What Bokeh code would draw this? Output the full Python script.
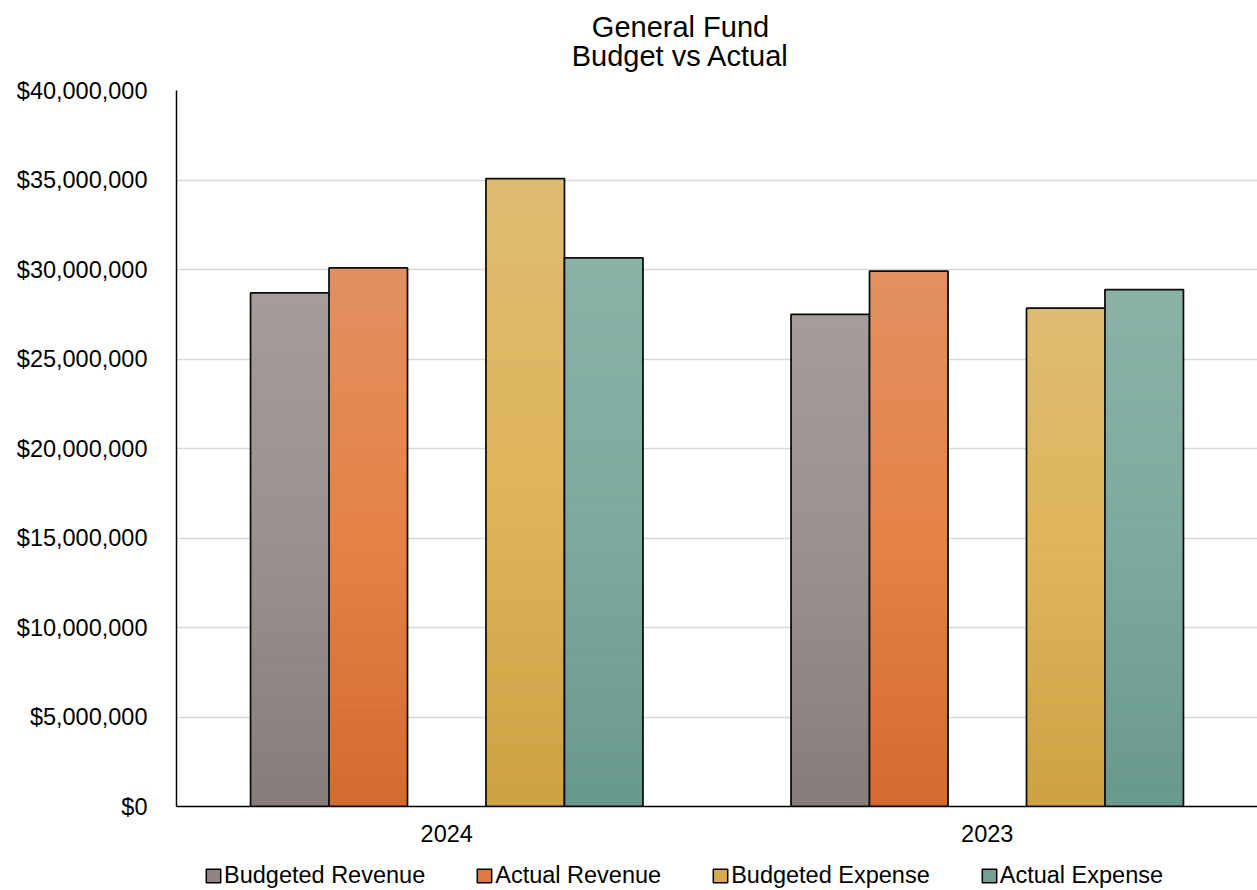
import numpy as np
from bokeh.plotting import figure
from bokeh.layouts import column
from bokeh.models import (Range1d, FixedTicker, NumeralTickFormatter, Legend,
                          LegendItem, Label, ColumnDataSource)
from bokeh.embed import file_html
from bokeh.resources import INLINE

# ---------------- data ----------------
categories = ["2024", "2023"]
series_names = ["Budgeted Revenue", "Actual Revenue", "Budgeted Expense", "Actual Expense"]
budgeted_revenue = [28_700_000, 27_490_000]
actual_revenue = [30_090_000, 29_910_000]
budgeted_expense = [35_080_000, 27_840_000]
actual_expense = [30_650_000, 28_880_000]
y_ticks = [0, 5_000_000, 10_000_000, 15_000_000, 20_000_000,
           25_000_000, 30_000_000, 35_000_000, 40_000_000]
title_lines = ["General Fund", "Budget vs Actual"]

series_values = [budgeted_revenue, actual_revenue, budgeted_expense, actual_expense]

# ---------------- style ----------------
FONT = "Liberation Sans"
TICK_FS = "23.5px"
W = 1257
TITLE_H, LEGEND_H = 76, 30
slot_offsets = [-2, -1, 1, 2]       # slot 0 of each group is empty
slot_width = 0.1452
# gradient stops: top, middle, bottom
gradients = [
    ["#A59D9B", "#9A908E", "#867C7A"],
    ["#E29062", "#E58246", "#D36B2F"],
    ["#DEBB72", "#DFB55A", "#CDA144"],
    ["#8AB2A7", "#7DAA9E", "#69988C"],
]
legend_colors = ["#8E8482", "#E17A3E", "#D6AA4E", "#74A195"]


def hex2rgb(h):
    h = h.lstrip("#")
    return np.array([int(h[i:i + 2], 16) for i in (0, 2, 4)], dtype=float)


def grad_color(stops, t):
    # t = 0 at top, 1 at bottom
    a, b, c = [hex2rgb(s) for s in stops]
    if t <= 0.5:
        rgb = a + (b - a) * (t / 0.5)
    else:
        rgb = b + (c - b) * ((t - 0.5) / 0.5)
    return "#%02x%02x%02x" % tuple(int(round(v)) for v in rgb)


def blank_fig(h):
    f = figure(width=W, height=h, x_range=Range1d(0, W), y_range=Range1d(0, h),
               output_backend="svg", toolbar_location=None,
               x_axis_location=None, y_axis_location=None, min_border=0)
    f.outline_line_color = None
    f.grid.visible = False
    f.background_fill_color = "white"
    f.border_fill_color = "white"
    return f


# ---------------- title ----------------
# (frames of the stacked figures share the main chart's left edge at x=176)
tf = blank_fig(TITLE_H)
for line, base in zip(title_lines, [50.0, 21.0]):
    tf.add_layout(Label(x=504, y=base, x_units="screen", y_units="screen",
                        text=line, text_font=FONT, text_font_size="29px",
                        text_align="center", text_baseline="alphabetic",
                        text_color="black"))

# ---------------- main chart ----------------
p = figure(frame_width=1081, frame_height=716,
           x_range=Range1d(0, len(categories)), y_range=Range1d(0, 40_000_000),
           output_backend="svg", toolbar_location=None,
           min_border_left=176, min_border_right=0,
           min_border_top=14, min_border_bottom=54)
p.outline_line_color = None
p.background_fill_color = "white"
p.border_fill_color = "white"

p.xgrid.visible = False
p.ygrid.ticker = FixedTicker(ticks=y_ticks)
p.ygrid.grid_line_color = "#D9D9D9"
p.ygrid.grid_line_width = 1.5

p.yaxis.ticker = FixedTicker(ticks=y_ticks)
p.yaxis.formatter = NumeralTickFormatter(format="$0,0")
p.yaxis.major_tick_line_color = None
p.yaxis.minor_tick_line_color = None
p.yaxis.axis_line_color = "black"
p.yaxis.axis_line_width = 1.5
p.yaxis.major_label_text_font = FONT
p.yaxis.major_label_text_font_size = TICK_FS
p.yaxis.major_label_text_color = "black"
p.yaxis.major_label_standoff = 23

centers = [i + 0.5 for i in range(len(categories))]
p.xaxis.ticker = FixedTicker(ticks=centers)
p.xaxis.major_label_overrides = {c: cat for c, cat in zip(centers, categories)}
p.xaxis.major_tick_line_color = None
p.xaxis.minor_tick_line_color = None
p.xaxis.axis_line_color = "black"
p.xaxis.axis_line_width = 1.5
p.xaxis.major_label_text_font = FONT
p.xaxis.major_label_text_font_size = TICK_FS
p.xaxis.major_label_text_color = "black"
p.xaxis.major_label_standoff = 12

N = 100
for s, vals in enumerate(series_values):
    lefts, rights, bottoms, tops, colors = [], [], [], [], []
    o_left, o_right, o_top = [], [], []
    for ci, v in enumerate(vals):
        xc = centers[ci] + slot_offsets[s] * slot_width
        l, r = xc - slot_width / 2, xc + slot_width / 2
        o_left.append(l); o_right.append(r); o_top.append(v)
        for k in range(N):
            lefts.append(l); rights.append(r)
            bottoms.append(v * k / N); tops.append(v * (k + 1) / N)
            colors.append(grad_color(gradients[s], 1 - (k + 0.5) / N))
    src = ColumnDataSource(dict(left=lefts, right=rights, bottom=bottoms, top=tops, color=colors))
    p.quad(left="left", right="right", bottom="bottom", top="top", source=src,
           fill_color="color", line_color="color", line_width=1.0)
    p.quad(left=o_left, right=o_right, bottom=[0] * len(o_top), top=o_top,
           fill_alpha=0, line_color="#0D0D0D", line_width=1.75)

# ---------------- legend ----------------
lf = blank_fig(LEGEND_H)
items = []
for s, name in enumerate(series_names):
    # legend-only swatch renderer, kept outside the visible range
    dummy = lf.quad(left=[-100], right=[-90], bottom=[0], top=[10],
                    fill_color=legend_colors[s], line_color="black", line_width=1.5)
    items.append(LegendItem(label=name, renderers=[dummy]))
legend = Legend(items=items, orientation="horizontal", location=(28, 1),
                glyph_width=18, glyph_height=17, label_standoff=2, spacing=50,
                padding=0, margin=0, border_line_color=None, background_fill_alpha=0,
                label_text_font=FONT, label_text_font_size="23.5px",
                label_text_color="black", label_height=20)
lf.add_layout(legend, "center")

layout = column(tf, p, lf, spacing=0)
open("out.html", "w").write(file_html(layout, INLINE))
